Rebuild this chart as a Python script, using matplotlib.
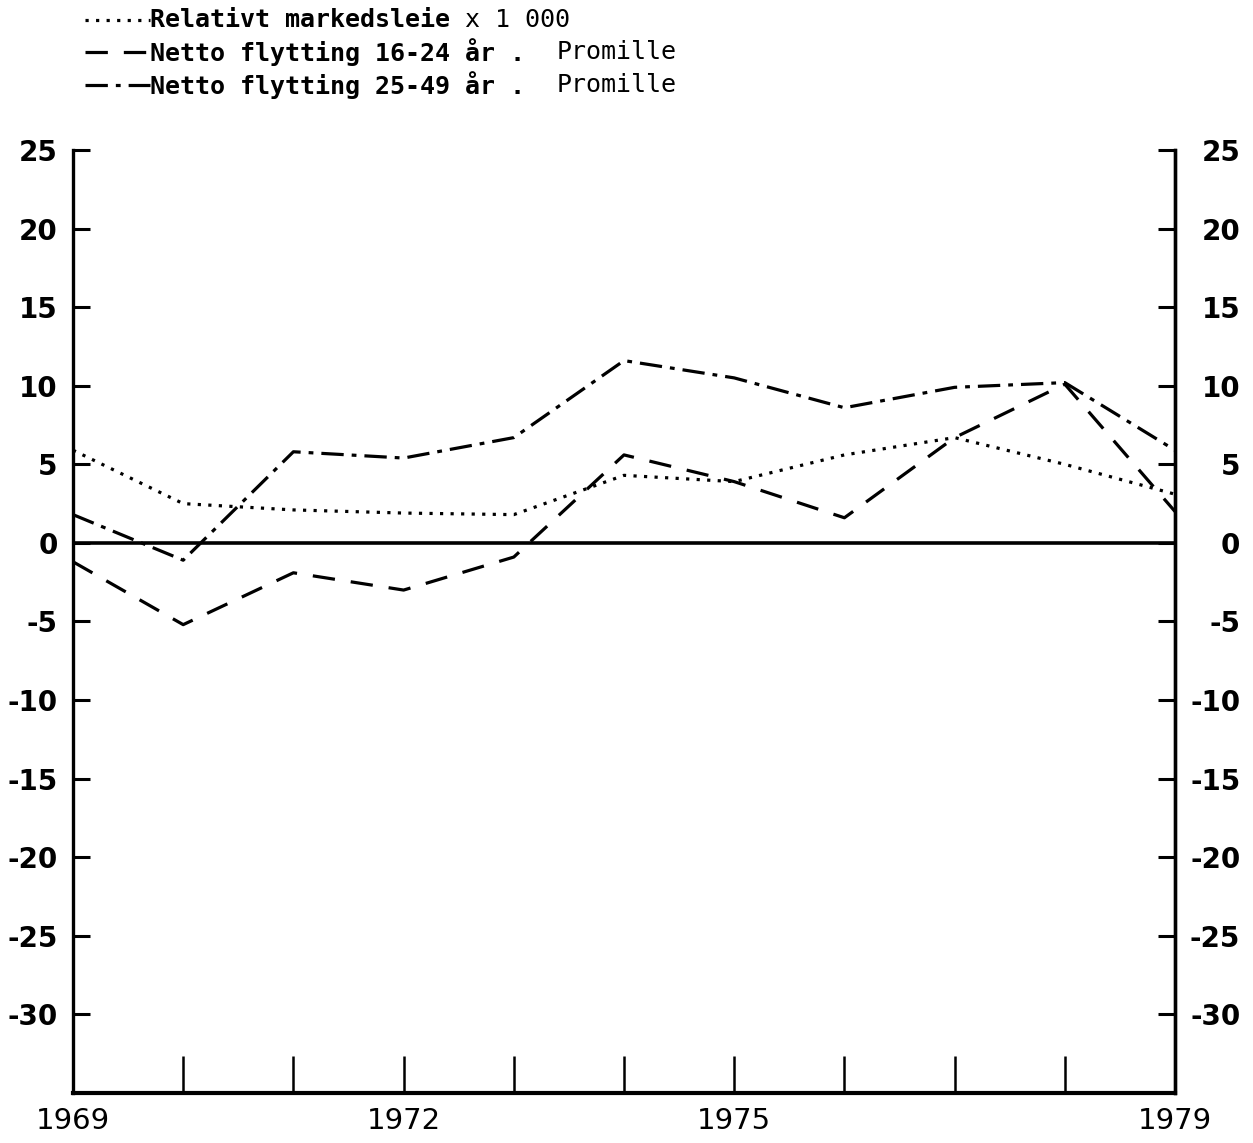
import matplotlib
matplotlib.use("Agg")
import matplotlib.pyplot as plt
from matplotlib.lines import Line2D

plt.rcParams['axes.unicode_minus'] = False

# Data
years = [1969, 1970, 1971, 1972, 1973, 1974, 1975, 1976, 1977, 1978, 1979]
markedsleie = [5.9, 2.5, 2.1, 1.9, 1.8, 4.3, 3.9, 5.6, 6.7, 5.0, 3.1]
flytting_16_24 = [-1.2, -5.2, -1.9, -3.0, -0.9, 5.6, 3.9, 1.6, 6.7, 10.1, 2.0]
flytting_25_49 = [1.8, -1.1, 5.8, 5.4, 6.7, 11.6, 10.5, 8.6, 9.9, 10.2, 5.9]

y_ticks = [25, 20, 15, 10, 5, 0, -5, -10, -15, -20, -25, -30]
x_labels = {1969: '1969', 1972: '1972', 1975: '1975', 1979: '1979'}

dotted = (0, (1.0, 2.3))
dashed = (0, (7, 5))
dashdot = (0, (7, 2.5, 1.5, 2.5))

W, H = 1253, 1143
fig = plt.figure(figsize=(W / 100, H / 100), dpi=100)
ax = fig.add_axes([73 / W, 1 - 1093 / H, (1175 - 73) / W, (1093 - 150) / H])

lw = 2.3
ax.plot(years, markedsleie, color='black', lw=lw, linestyle=dotted)
ax.plot(years, flytting_16_24, color='black', lw=lw, linestyle=dashed)
ax.plot(years, flytting_25_49, color='black', lw=lw, linestyle=dashdot)
ax.axhline(0, color='black', lw=2.6)

ax.set_xlim(1969, 1979)
ax.set_ylim(-35, 25)

# spines
ax.spines['top'].set_visible(False)
for s in ['left', 'right']:
    ax.spines[s].set_linewidth(2.4)
ax.spines['bottom'].set_linewidth(3.0)

# x ticks
ax.set_xticks(years)
ax.set_xticklabels([x_labels.get(y, '') for y in years], fontsize=21,
                   family='DejaVu Sans')
ax.tick_params(axis='x', direction='in', length=27, width=1.8, pad=10)

# y ticks (left)
ax.set_yticks(y_ticks)
ax.set_yticklabels([str(v) for v in y_ticks], fontsize=20, fontweight='bold')
ax.tick_params(axis='y', direction='in', length=12, width=2.2, pad=11)

# y ticks (right)
ax2 = ax.twinx()
ax2.set_ylim(ax.get_ylim())
ax2.set_yticks(y_ticks)
ax2.set_yticklabels([str(v) for v in y_ticks], fontsize=20, fontweight='bold')
ax2.tick_params(axis='y', direction='in', length=12, width=2.2, pad=47)
for lbl in ax2.get_yticklabels():
    lbl.set_horizontalalignment('right')
for s in ['top', 'left', 'bottom']:
    ax2.spines[s].set_visible(False)
ax2.spines['right'].set_linewidth(2.4)

# legend drawn by hand (mixed bold / normal text)
rows = [
    (20, dotted, 'Relativt markedsleie', 'x 1 000', 465),
    (52, dashed, 'Netto flytting 16-24 år .', 'Promille', 557),
    (85, dashdot, 'Netto flytting 25-49 år .', 'Promille', 557),
]
for ypx, ls, bold_txt, norm_txt, xn in rows:
    yf = 1 - ypx / H
    fig.add_artist(Line2D([85 / W, 150 / W], [yf, yf], transform=fig.transFigure,
                          color='black', lw=lw, linestyle=ls))
    fig.text(150 / W, yf, bold_txt, fontsize=18, fontweight='bold',
             family='DejaVu Sans Mono', va='center', ha='left')
    fig.text(xn / W, yf, norm_txt, fontsize=18, family='DejaVu Sans Mono',
             va='center', ha='left')

fig.savefig('out.png', dpi=100)
